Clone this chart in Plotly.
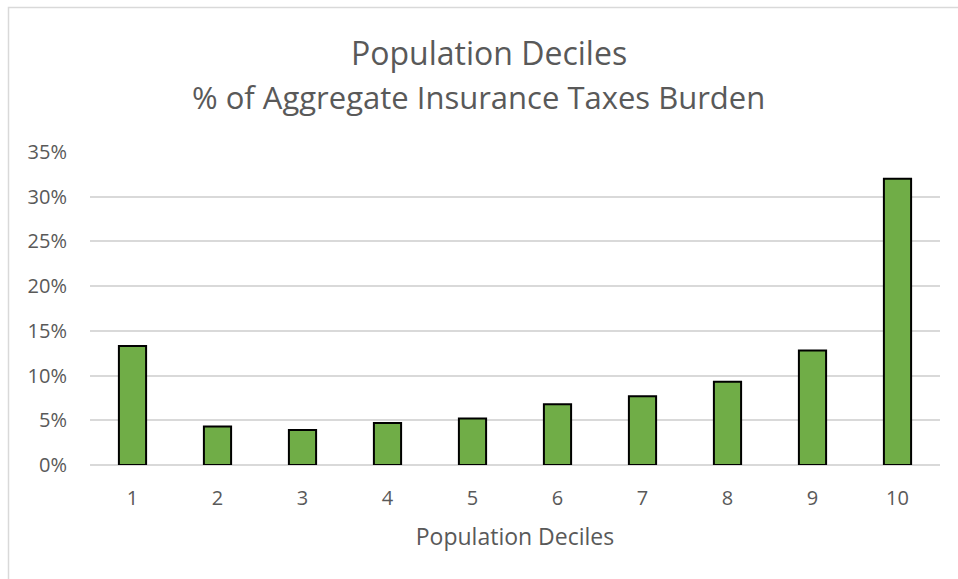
import plotly.graph_objects as go

# Population deciles and their share of the aggregate insurance tax burden (%)
deciles = ["1", "2", "3", "4", "5", "6", "7", "8", "9", "10"]
burden_pct = [13.3, 4.3, 3.9, 4.7, 5.2, 6.8, 7.7, 9.3, 12.8, 32.0]
y_ticks = [0, 5, 10, 15, 20, 25, 30, 35]
y_tick_text = [f"{v}%" for v in y_ticks]

title_lines = ["Population Deciles", "% of Aggregate Insurance Taxes Burden"]
x_title = "Population Deciles"

FONT = "Open Sans"
GREY = "#595959"

W, H = 958, 579
M_L, M_R, M_T, M_B = 90, 18, 152, 114

fig = go.Figure(
    go.Bar(
        x=deciles,
        y=burden_pct,
        marker=dict(color="#70AD47", line=dict(color="#000000", width=2)),
        hoverinfo="x+y",
    )
)

fig.update_layout(
    width=W,
    height=H,
    margin=dict(l=M_L, r=M_R, t=M_T, b=M_B),
    paper_bgcolor="white",
    plot_bgcolor="white",
    bargap=0.68,
    showlegend=False,
    font=dict(family=FONT, color=GREY),
)

fig.update_xaxes(
    type="category",
    showgrid=False,
    showline=False,
    ticks="",
    tickfont=dict(size=20, color=GREY, family=FONT),
    ticklabelstandoff=19,
    title=dict(text=x_title, font=dict(size=23, color=GREY, family=FONT), standoff=18),
)

fig.update_yaxes(
    range=[0, 35],
    tickvals=y_ticks,
    ticktext=y_tick_text,
    showgrid=True,
    gridcolor="#D9D9D9",
    gridwidth=1.5,
    zeroline=True,
    zerolinecolor="#D9D9D9",
    zerolinewidth=1.5,
    showline=False,
    ticks="",
    tickfont=dict(size=20, color=GREY, family=FONT),
    ticklabelstandoff=22,
)

# two-line chart title, placed in pixel space
plot_h = H - M_T - M_B
plot_w = W - M_L - M_R
for text, px, py, size in zip(title_lines, [489, 478], [52, 97], [32, 31]):
    fig.add_annotation(
        text=text,
        xref="paper", yref="paper",
        x=(px - M_L) / plot_w,
        y=(H - M_B - py) / plot_h,
        xanchor="center", yanchor="middle",
        showarrow=False,
        font=dict(size=size, color=GREY, family=FONT),
    )

# light chart-area border
fig.add_shape(
    type="rect",
    xref="paper", yref="paper",
    x0=(8.5 - M_L) / plot_w, x1=(W + 20 - M_L) / plot_w,
    y0=(H - M_B - (H + 20)) / plot_h, y1=(H - M_B - 7.5) / plot_h,
    line=dict(color="#D9D9D9", width=1.5),
    fillcolor="rgba(0,0,0,0)",
    layer="below",
)

fig.write_html("out.html")
